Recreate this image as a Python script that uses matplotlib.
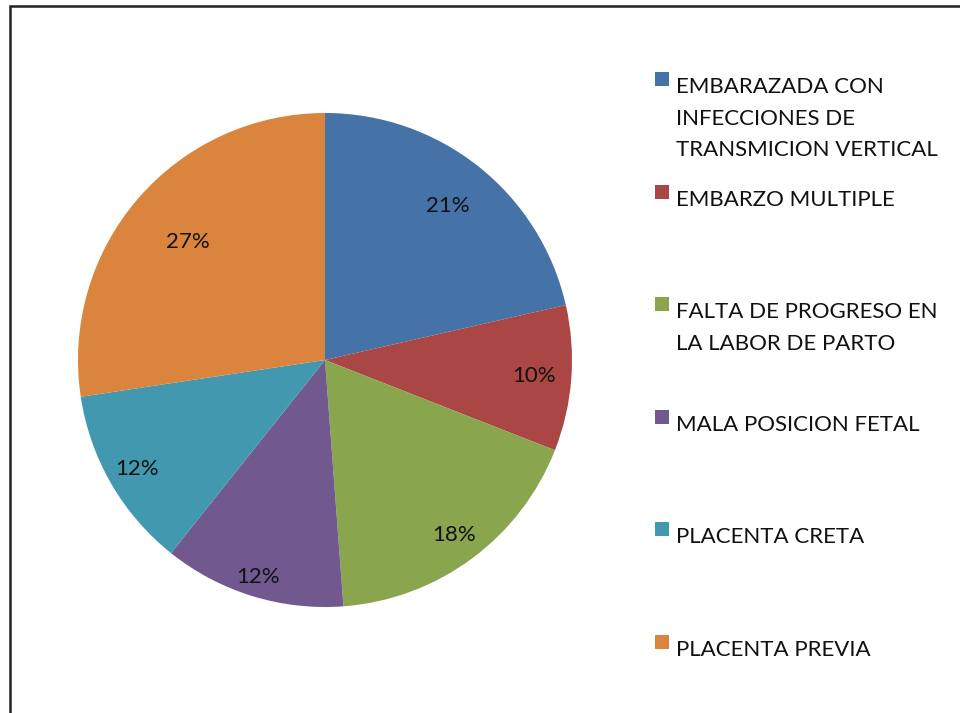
import numpy as np
import matplotlib.pyplot as plt
from matplotlib.patches import Rectangle

plt.rcParams['font.family'] = ['Lato', 'DejaVu Sans']

# causas (conteos estimados a partir de los porcentajes)
categorias = ['EMBARAZADA CON\nINFECCIONES DE\nTRANSMICION VERTICAL',
              'EMBARZO MULTIPLE',
              'FALTA DE PROGRESO EN\nLA LABOR DE PARTO',
              'MALA POSICION FETAL',
              'PLACENTA CRETA',
              'PLACENTA PREVIA']
conteos = [18, 8, 15, 10, 10, 23]
colores = ['#4572A7', '#AA4643', '#89A54E', '#71588F', '#4198AF', '#DB843D']
# distancia de cada etiqueta al centro (ajuste "best fit" de Excel)
dist_etiq = [0.80, 0.85, 0.88, 0.92, 0.88, 0.73]

fig = plt.figure(figsize=(9.6, 7.13), dpi=100)
ax = fig.add_axes([78/960, 106/713, 494/960, 494/713])

wedges, texts, autotexts = ax.pie(conteos, colors=colores, startangle=90,
                                  counterclock=False, autopct='%.0f%%',
                                  pctdistance=0.83, radius=1.0,
                                  textprops={'fontsize': 16, 'color': '#111111'})
for w, t, d in zip(wedges, autotexts, dist_etiq):
    ang = np.deg2rad((w.theta1 + w.theta2) / 2)
    t.set_position((d * np.cos(ang), d * np.sin(ang)))
ax.set_xlim(-1, 1)
ax.set_ylim(-1, 1)
ax.set_aspect('equal')

# leyenda a mano: cuadrados espaciados de forma regular
y0 = 713 - 72
paso = 112.6
for i, (cat, col) in enumerate(zip(categorias, colores)):
    ytop = y0 - i * paso
    fig.patches.append(Rectangle((655/960, (ytop - 14)/713), 14/960, 14/713,
                                 facecolor=col, edgecolor='none',
                                 transform=fig.transFigure, figure=fig))
    fig.text(676/960, (ytop - 5)/713, cat, fontsize=16, color='#111111',
             va='top', ha='left', linespacing=1.72)

# marco exterior
fig.patches.append(Rectangle((9.5/960, -0.01), 1.0, (713 - 5.5)/713 + 0.01,
                             facecolor='none', edgecolor='#222222', lw=1.8,
                             transform=fig.transFigure, figure=fig))

fig.savefig('out.png', dpi=100)
